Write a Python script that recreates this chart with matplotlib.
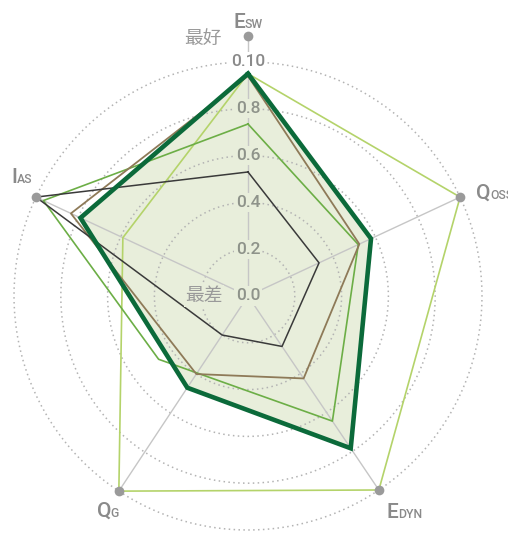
import numpy as np
import matplotlib
matplotlib.use("Agg")
import matplotlib.pyplot as plt
from matplotlib.transforms import IdentityTransform

# ---------------- data ----------------
axis_main = ["E", "Q", "E", "Q", "I"]
axis_sub = ["SW", "OSS", "DYN", "G", "AS"]
axis_angle_deg = [0, 65, 146, 213.5, 295]          # clockwise from top
mid_green_angle_deg = [0, 65, 146, 234.7, 295]     # this series' 4th vertex sits off its axis
axis_dot_r = [1.11, 1.0, 1.0, 1.0, 1.0]

tick_values = [0.0, 0.2, 0.4, 0.6, 0.8, 1.0]
tick_labels = ["0.0", "0.2", "0.4", "0.6", "0.8", "0.10"]
ring_values = [0.2, 0.4, 0.6, 0.8, 1.0]

# order: E_SW, Q_OSS, E_DYN, Q_G, I_AS
dark_green = [0.95, 0.58, 0.785, 0.47, 0.79]
brown = [0.94, 0.525, 0.425, 0.40, 0.835]
mid_green = [0.735, 0.52, 0.645, 0.468, 0.965]
light_green = [0.95, 1.0, 1.0, 1.0, 0.59]
black = [0.53, 0.335, 0.26, 0.20, 1.0]

best_label = "最好"
worst_label = "最差"

# ---------------- style ----------------
FILL = "#e8eedb"
LAB = "#8a8a8a"
W, H = 508, 533

fig = plt.figure(figsize=(W / 100, H / 100), dpi=100)
R = 234
cx, cy = 248, H - 296
ax = fig.add_axes([(cx - R) / W, (cy - R) / H, 2 * R / W, 2 * R / H], projection="polar")
ax.set_theta_zero_location("N")
ax.set_theta_direction(-1)
ax.set_ylim(0, 1)
ax.set_axis_off()


def closed(v):
    v = np.asarray(v, dtype=float)
    return np.r_[v, v[:1]]


theta = np.deg2rad(axis_angle_deg)
tc = closed(theta)
tc_mid = closed(np.deg2rad(mid_green_angle_deg))

# fill of main series
ax.fill(tc, closed(dark_green), color=FILL, lw=0, zorder=1)

# dotted rings
ring_theta = np.linspace(0, 2 * np.pi, 721)
for r in ring_values:
    ax.plot(ring_theta, np.full_like(ring_theta, r), color="#b3b3b3", lw=1.1,
            ls=(0, (1, 2.2)), zorder=2, clip_on=False)

# axis spokes + end dots
for th, rd in zip(theta, axis_dot_r):
    ax.plot([th, th], [0, rd], color="#c6c6c6", lw=1.0, zorder=2, clip_on=False)
    ax.plot([th], [rd], "o", ms=7, color="#9a9a9a", mec="none", zorder=7, clip_on=False)

# radial tick labels
for v, lab in zip(tick_values, tick_labels):
    fc = FILL if v < dark_green[0] else "white"
    ax.text(0, v, lab, ha="center", va="center", fontsize=12.5, fontweight="medium",
            color="#8e938a" if fc == FILL else LAB,
            family="Roboto", zorder=3,
            bbox=dict(boxstyle="square,pad=0.12", fc=fc, ec="none"))

# series lines
ax.plot(tc, closed(light_green), color="#b4d36a", lw=1.2, zorder=4, clip_on=False)
ax.plot(tc_mid, closed(mid_green), color="#6cae46", lw=1.2, zorder=4, clip_on=False)
ax.plot(tc, closed(brown), color="#8e7a58", lw=1.3, zorder=4, clip_on=False)
ax.plot(tc, closed(black), color="#3a3a3a", lw=1.1, zorder=4, clip_on=False)
ax.plot(tc, closed(dark_green), color="#0b6a3a", lw=3.3, zorder=5, clip_on=False,
        solid_joinstyle="miter")

# Chinese labels
ax.text(np.deg2rad(350.1), 1.119, best_label, ha="center", va="center", fontsize=13.5,
        color="#9a9a9a", family=["Noto Sans CJK SC", "DejaVu Sans"], zorder=6, clip_on=False)
ax.text(np.deg2rad(270), 0.188, worst_label, ha="center", va="center", fontsize=13.5,
        color="#9a9a9a", family=["Noto Sans CJK SC", "DejaVu Sans"], zorder=6, clip_on=False,
        bbox=dict(boxstyle="square,pad=0.05", fc=FILL, ec="none"))

# axis labels with small-cap suffix
label_pos = [  # (theta_deg, r, anchor)
    (0, 1.145, "center"),
    (67, 1.059, "left"),
    (144.8, 1.161, "center"),
    (212.4, 1.119, "center"),
    (296.6, 1.08, "center"),
]
renderer = fig.canvas.get_renderer()
for (tdeg, r, ha), m, s in zip(label_pos, axis_main, axis_sub):
    x, y = ax.transData.transform((np.deg2rad(tdeg), r))
    t1 = fig.text(x, y, m, transform=IdentityTransform(), fontsize=15, fontweight="medium",
                  color=LAB, family="Roboto", ha="left", va="baseline")
    t2 = fig.text(x, y, s, transform=IdentityTransform(), fontsize=8.8, fontweight="medium",
                  color=LAB, family="Roboto", ha="left", va="baseline")
    w1 = t1.get_window_extent(renderer).width
    w2 = t2.get_window_extent(renderer).width
    gap = -0.5
    total = w1 + gap + w2
    x0 = x - total / 2 if ha == "center" else x
    t1.set_x(x0)
    t2.set_x(x0 + w1 + gap)

fig.savefig("out.png", dpi=100)
